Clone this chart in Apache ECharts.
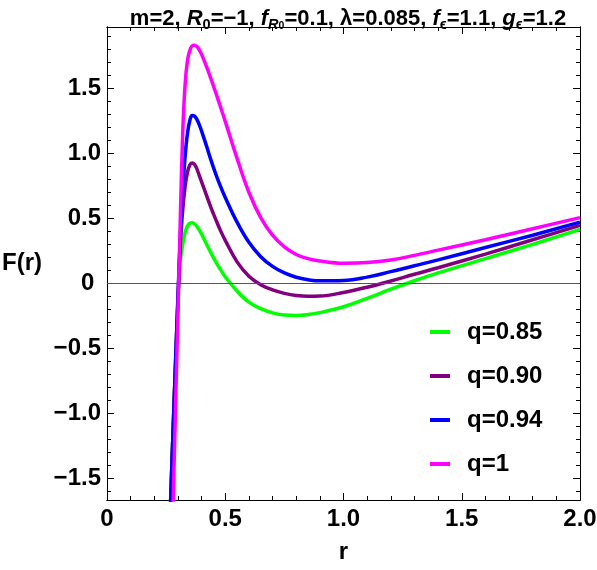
<!DOCTYPE html>
<html><head><meta charset="utf-8">
<script src="https://cdn.jsdelivr.net/npm/echarts@6/dist/echarts.min.js"></script>
<style>html,body{margin:0;padding:0;background:#fff}#c{width:597px;height:570px}</style>
</head><body><div id="c"></div>
<script>
// ---- data ----
const rValues = [0.26,0.27,0.28,0.29,0.30,0.31,0.32,0.33,0.34,0.35,0.36,0.37,0.38,0.39,0.40,0.42,0.44,0.46,0.48,0.50,0.55,0.60,0.65,0.70,0.75,0.80,0.85,0.90,1.00,1.10,1.20,1.30,1.40,1.60,1.80,2.00];
const fQ085 = [-2.15,-1.62,-1.10,-0.62,-0.15,0.17,0.30,0.39,0.44,0.462,0.465,0.457,0.438,0.41,0.378,0.305,0.232,0.165,0.105,0.05,-0.06,-0.145,-0.195,-0.227,-0.244,-0.247,-0.24,-0.225,-0.18,-0.115,-0.045,0.02,0.08,0.19,0.30,0.415];
const fQ090 = [-2.15,-1.62,-1.10,-0.60,-0.12,0.30,0.56,0.74,0.85,0.91,0.925,0.915,0.88,0.83,0.78,0.68,0.58,0.49,0.405,0.33,0.165,0.055,-0.01,-0.05,-0.077,-0.094,-0.10,-0.098,-0.07,-0.03,0.018,0.07,0.12,0.225,0.335,0.446];
const fQ094 = [-2.15,-1.62,-1.10,-0.60,-0.10,0.35,0.70,0.97,1.15,1.25,1.29,1.285,1.26,1.22,1.17,1.06,0.945,0.84,0.745,0.66,0.47,0.315,0.205,0.13,0.08,0.047,0.028,0.019,0.022,0.048,0.09,0.135,0.18,0.275,0.37,0.47];
const fQ100 = [-3.10,-2.38,-1.66,-0.94,-0.22,0.50,1.15,1.52,1.71,1.79,1.825,1.83,1.82,1.795,1.76,1.67,1.57,1.465,1.355,1.245,0.96,0.70,0.505,0.37,0.28,0.222,0.19,0.172,0.155,0.16,0.18,0.215,0.255,0.335,0.42,0.505];
const seriesNames = ['q=0.85','q=0.90','q=0.94','q=1'];
const seriesColors = ['#00ff00','#800080','#0000ff','#ff00ff'];
const xTickLabels = [0,0.5,1,1.5,2];
const yTickLabels = [-1.5,-1,-0.5,0,0.5,1,1.5];
const xRange = [0,2];
const yRange = [-1.665,1.97];

// minor tick positions every 0.1
const xMinor = []; for (let k=0;k<=20;k++) xMinor.push(+(k*0.1).toFixed(1));
const yMinor = []; for (let k=-16;k<=19;k++) yMinor.push(+(k*0.1).toFixed(1));

const FONT = "'Liberation Sans', Arial, sans-serif";
const fmtX = v => v===0 ? '0' : v.toFixed(1);
const fmtY = v => v===0 ? '0 ' : (v<0 ? '\u2212'+Math.abs(v).toFixed(1) : v.toFixed(1));

function xAx(position, ticks, len, labels, extra) {
  return Object.assign({
    type:'value', position, min:xRange[0], max:xRange[1],
    axisLine:{show:true, onZero:false, lineStyle:{color:'#000', width:1}},
    axisTick:{show:true, inside:true, length:len, customValues:ticks, lineStyle:{color:'#000', width:1}},
    axisLabel: labels ? {show:true, customValues:xTickLabels, formatter:fmtX, fontSize:24, fontWeight:'bold', color:'#000', fontFamily:FONT, margin:7} : {show:false},
    splitLine:{show:false}, minorTick:{show:false}, minorSplitLine:{show:false}
  }, extra||{});
}
function yAx(position, ticks, len, labels, extra) {
  return Object.assign({
    type:'value', position, min:yRange[0], max:yRange[1],
    axisLine:{show:true, onZero:false, lineStyle:{color:'#000', width:1}},
    axisTick:{show:true, inside:true, length:len, customValues:ticks, lineStyle:{color:'#000', width:1}},
    axisLabel: labels ? {show:true, customValues:yTickLabels, formatter:fmtY, fontSize:24, fontWeight:'bold', color:'#000', fontFamily:FONT, margin:6} : {show:false},
    splitLine:{show:false}, minorTick:{show:false}, minorSplitLine:{show:false}
  }, extra||{});
}

const chart = echarts.init(document.getElementById('c'), null, {renderer:'canvas'});
const valueSets = [fQ085, fQ090, fQ094, fQ100];
const series = [{
  name:'zero', type:'line', data:[], silent:true,
  markLine:{silent:true, symbol:'none', label:{show:false}, lineStyle:{color:'#555', width:1, type:'solid'}, data:[{yAxis:0}], animation:false}
}];
valueSets.forEach((vals, i) => {
  series.push({
    name: seriesNames[i], type:'line', xAxisIndex:0, yAxisIndex:0,
    data: rValues.map((r,j)=>[r, vals[j]]),
    symbol:'none', showSymbol:false, smooth:0.4, clip:true,
    lineStyle:{width:3.5, color:seriesColors[i]}, itemStyle:{color:seriesColors[i]},
    animation:false
  });
});

chart.setOption({
  animation:false,
  backgroundColor:'#fff',
  title:{
    left:343, top:1, textAlign:'center',
    text:'{n|m=2, }{i|R}{s|0}{n|=\u22121, }{i|f}{si|R}{ss|0}{n|=0.1, \u03bb=0.085, }{i|f}{s|\u03f5}{n|=1.1, }{i|g}{s|\u03f5}{n|=1.2}',
    textStyle:{
      rich:{
        n:{fontSize:22, fontWeight:'bold', fontFamily:FONT, color:'#000', lineHeight:26},
        i:{fontSize:22, fontWeight:'bold', fontStyle:'italic', fontFamily:FONT, color:'#000', lineHeight:26},
        s:{fontSize:14.5, fontWeight:'bold', fontFamily:FONT, color:'#000', lineHeight:14, verticalAlign:'bottom'},
        si:{fontSize:14.5, fontWeight:'bold', fontStyle:'italic', fontFamily:FONT, color:'#000', lineHeight:14, verticalAlign:'bottom'},
        ss:{fontSize:10.5, fontWeight:'bold', fontFamily:FONT, color:'#000', lineHeight:8, verticalAlign:'bottom'}
      }
    }
  },
  grid:{left:107, right:17, top:27, bottom:70, containLabel:false, outerBoundsMode:'none'},
  legend:{
    orient:'vertical', left:425, top:315, itemWidth:20, itemHeight:4, itemGap:20, icon:'rect',
    data:seriesNames,
    textStyle:{fontSize:24, fontWeight:'bold', color:'#000', fontFamily:FONT, lineHeight:24, padding:[0,0,0,12]}
  },
  xAxis:[
    xAx('bottom', xTickLabels, 7, true, {name:'r', nameLocation:'middle', nameGap:40, nameTextStyle:{fontSize:24, fontWeight:'bold', color:'#000', fontFamily:FONT}}),
    xAx('bottom', xMinor, 4, false),
    xAx('top', xTickLabels, 7, false),
    xAx('top', xMinor, 4, false)
  ],
  yAxis:[
    yAx('left', yTickLabels, 7, true, {name:'F(r)', nameLocation:'middle', nameGap:65, nameRotate:0, nameTextStyle:{fontSize:24, fontWeight:'bold', color:'#000', fontFamily:FONT}}),
    yAx('left', yMinor, 4, false),
    yAx('right', yTickLabels, 7, false),
    yAx('right', yMinor, 4, false)
  ],
  series
});
</script></body></html>
